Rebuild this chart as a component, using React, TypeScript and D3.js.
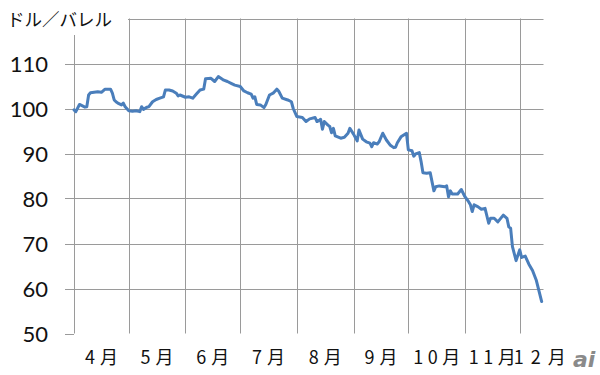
import React from "react";
import * as d3 from "d3";

const dates = [
  "2014-04-01","2014-04-02","2014-04-04","2014-04-07","2014-04-08","2014-04-09","2014-04-10","2014-04-14","2014-04-16","2014-04-18",
  "2014-04-21","2014-04-22","2014-04-23","2014-04-24","2014-04-25","2014-04-27","2014-04-28","2014-04-29","2014-05-01","2014-05-03",
  "2014-05-05","2014-05-07","2014-05-08","2014-05-09","2014-05-11","2014-05-12","2014-05-14","2014-05-16","2014-05-18","2014-05-20",
  "2014-05-21","2014-05-23","2014-05-25","2014-05-27","2014-05-28","2014-05-29","2014-06-01","2014-06-03","2014-06-05","2014-06-07",
  "2014-06-09","2014-06-11","2014-06-12","2014-06-15","2014-06-17","2014-06-19","2014-06-22","2014-06-24","2014-06-26","2014-06-28",
  "2014-07-01","2014-07-03","2014-07-05","2014-07-07","2014-07-08","2014-07-09","2014-07-10","2014-07-12","2014-07-14","2014-07-15",
  "2014-07-17","2014-07-19","2014-07-21","2014-07-22","2014-07-24","2014-07-27","2014-07-29","2014-07-30","2014-08-01","2014-08-04",
  "2014-08-06","2014-08-08","2014-08-11","2014-08-12","2014-08-13","2014-08-14","2014-08-15","2014-08-16","2014-08-18","2014-08-19",
  "2014-08-20","2014-08-21","2014-08-22","2014-08-25","2014-08-27","2014-08-29","2014-08-30","2014-09-01","2014-09-03","2014-09-04",
  "2014-09-06","2014-09-08","2014-09-10","2014-09-11","2014-09-12","2014-09-14","2014-09-15","2014-09-17","2014-09-19","2014-09-21",
  "2014-09-23","2014-09-24","2014-09-25","2014-09-27","2014-09-30","2014-10-01","2014-10-03","2014-10-04","2014-10-05","2014-10-07",
  "2014-10-08","2014-10-09","2014-10-11","2014-10-13","2014-10-15","2014-10-16","2014-10-18","2014-10-21","2014-10-22","2014-10-23",
  "2014-10-24","2014-10-25","2014-10-28","2014-10-30","2014-11-01","2014-11-03","2014-11-04","2014-11-05","2014-11-06","2014-11-08",
  "2014-11-10","2014-11-12","2014-11-14","2014-11-15","2014-11-17","2014-11-19","2014-11-22","2014-11-24","2014-11-25","2014-11-26",
  "2014-11-27","2014-11-29","2014-12-01","2014-12-02","2014-12-04","2014-12-06","2014-12-08","2014-12-10","2014-12-13",
];

const prices = [
  99.7,99.3,100.9,100.3,100.4,103.0,103.5,103.7,103.6,104.3,
  104.3,103.4,101.9,101.5,101.2,100.8,101.2,100.4,99.5,99.4,
  99.5,99.3,100.4,99.8,100.3,100.4,101.5,102.0,102.3,102.6,
  104.1,104.1,103.9,103.4,102.8,103.0,102.5,102.6,102.3,103.2,
  104.1,104.3,106.6,106.7,106.0,107.1,106.3,106.0,105.6,105.2,
  104.9,103.9,103.5,103.2,102.3,102.6,100.9,100.8,100.2,100.9,
  103.0,103.4,104.3,103.9,102.3,101.9,101.5,100.0,98.2,98.0,
  97.1,97.7,98.0,97.1,97.3,97.6,95.4,97.1,96.3,96.0,
  94.6,95.6,93.9,93.4,93.6,94.5,95.6,94.3,92.8,95.2,
  93.2,92.6,92.3,91.5,92.4,92.1,92.6,94.5,93.0,91.9,
  91.3,91.4,92.4,93.7,94.5,90.8,90.6,89.4,89.9,90.2,
  88.2,85.7,85.6,85.7,81.7,82.6,82.8,82.6,82.8,80.4,
  81.7,81.0,81.0,82.0,80.4,79.3,78.6,77.1,78.6,78.2,
  77.6,77.8,74.5,75.6,75.6,74.8,76.3,75.6,73.7,73.4,
  69.3,66.2,68.6,66.9,67.2,65.4,64.0,61.9,57.1,
];

const monthStarts = ["2014-04-01","2014-05-01","2014-06-01","2014-07-01","2014-08-01","2014-09-01","2014-10-01","2014-11-01","2014-12-01"];
const monthLabels = ["4月","5月","6月","7月","8月","9月","10月","11月","12月"];
const yTicks = [50, 60, 70, 80, 90, 100, 110, 120];
const yTickLabels = ["50","60","70","80","90","100","110",""];
const yTitle = "ドル／バレル";
const domainStart = "2014-04-01";
const domainEnd = "2014-12-14";

const parse = d3.timeParse("%Y-%m-%d");

export default function App() {
  const W = 600, H = 375;
  const left = 74, right = 543.5, top = 18.5, bottom = 333.5;
  const x = d3.scaleTime().domain([parse(domainStart)!, parse(domainEnd)!]).range([left, right]);
  const y = d3.scaleLinear().domain([50, 120]).range([bottom, top]);
  const data = dates.map((d, i) => ({ date: parse(d)!, v: prices[i] }));
  const line = d3.line<{ date: Date; v: number }>().x(d => x(d.date)).y(d => y(d.v));
  const grid = "#9a9a9a";
  const ms = monthStarts.map(d => parse(d)!);
  const ends = ms.slice(1).concat([parse(domainEnd)!]);

  return (
    <svg width={W} height={H} style={{ position: "absolute", left: 0, top: 0, background: "#fff" }}>
      <rect x={0} y={0} width={W} height={H} fill="#fff" />
      {yTicks.map(t => (
        <line key={"h" + t} x1={left - 9} x2={t === 50 ? left : right}
          y1={Math.round(y(t)) + 0.5} y2={Math.round(y(t)) + 0.5} stroke={grid} strokeWidth={1} />
      ))}
      {ms.map((d, i) => (
        <line key={"v" + i} x1={Math.round(x(d)) + 0.5} x2={Math.round(x(d)) + 0.5}
          y1={top} y2={bottom} stroke={grid} strokeWidth={1} />
      ))}
      <rect x={0} y={0} width={128} height={35} fill="#fff" />
      <text x={7} y={26} fontFamily="'Noto Sans CJK JP'" fontSize={17.5} fill="#111">{yTitle}</text>
      {yTicks.map((t, i) => yTickLabels[i] ? (
        <text key={"yl" + t} x={48} y={y(t) + 8} textAnchor="end" fontFamily="Lato, 'Open Sans', sans-serif"
          fontSize={22} fill="#111">{yTickLabels[i]}</text>
      ) : null)}
      {ms.map((d, i) => {
        const last = i === ms.length - 1;
        const len = monthLabels[i].length > 2 ? (last ? 52 : 47) : 33;
        const cx = last ? x(d) - 6 : (x(d) + x(ends[i])) / 2;
        return (
          <text key={"xl" + i} x={cx} y={364} textAnchor={last ? "start" : "middle"}
            fontFamily="'Noto Sans CJK JP'" fontSize={18} fill="#111"
            textLength={len} lengthAdjust="spacing">{monthLabels[i]}</text>
        );
      })}
      <path d={line(data)!} fill="none" stroke="#4a7ebb" strokeWidth={3} strokeLinejoin="round" strokeLinecap="round" />
      <text x={573} y={367} fontFamily="'DejaVu Sans', sans-serif" fontStyle="italic" fontWeight="bold"
        fontSize={22} fill="#8a8a8a">ai</text>
    </svg>
  );
}
